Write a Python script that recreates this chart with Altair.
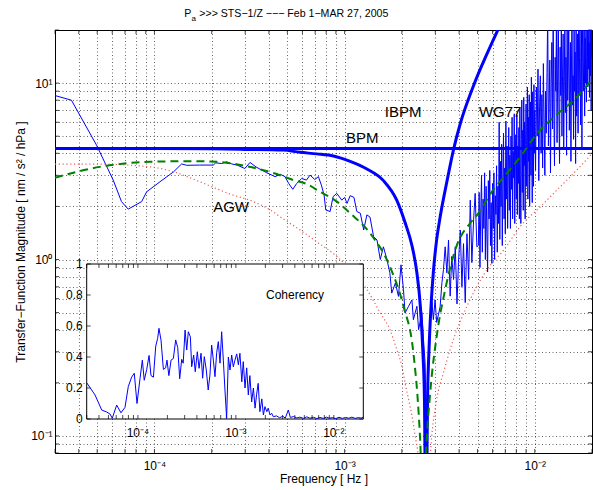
import altair as alt
import pandas as pd

FONT = "Liberation Sans"

# ---------------- measured transfer function (thin blue) ----------------
# low / mid band: frequency in Hz, magnitude in nm/s^2/hPa
tf_freq_lo = [3.0e-5, 3.66e-5, 4.96e-5, 6.07e-5, 6.71e-5, 7.28e-5, 8.57e-5, 9.10e-5, 1.07e-4, 1.26e-4,
              1.39e-4, 1.48e-4, 1.73e-4, 2.04e-4, 2.10e-4, 2.26e-4, 2.40e-4, 2.55e-4, 2.72e-4, 2.99e-4,
              3.18e-4, 3.42e-4, 3.67e-4, 3.90e-4, 4.31e-4, 4.59e-4, 4.86e-4, 5.08e-4, 5.34e-4, 5.60e-4,
              5.95e-4, 6.30e-4, 6.58e-4, 6.97e-4, 7.28e-4, 7.55e-4, 7.80e-4, 7.96e-4, 8.39e-4, 8.70e-4,
              9.10e-4, 9.67e-4, 1.00e-3, 1.03e-3, 1.07e-3, 1.12e-3, 1.16e-3, 1.21e-3, 1.26e-3, 1.31e-3,
              1.36e-3, 1.42e-3, 1.48e-3, 1.54e-3, 1.60e-3, 1.67e-3, 1.73e-3, 1.77e-3, 1.85e-3, 1.92e-3,
              1.98e-3, 2.04e-3, 2.08e-3, 2.17e-3, 2.26e-3, 2.30e-3, 2.40e-3, 2.45e-3, 2.55e-3, 2.60e-3,
              2.65e-3, 2.71e-3, 2.76e-3, 2.82e-3, 2.88e-3, 2.93e-3, 2.99e-3, 3.05e-3, 3.18e-3, 3.25e-3,
              3.31e-3, 3.38e-3, 3.45e-3, 3.52e-3, 3.59e-3, 3.66e-3, 3.74e-3, 3.82e-3, 3.90e-3, 3.97e-3,
              4.06e-3, 4.14e-3, 4.22e-3, 4.31e-3, 4.40e-3, 4.49e-3, 4.58e-3, 4.67e-3, 4.77e-3, 4.86e-3,
              4.96e-3]
tf_mag_lo = [8.5, 8.0, 4.45, 2.82, 2.13, 1.93, 2.13, 2.42, 2.76, 3.14,
             3.48, 3.42, 3.43, 3.43, 3.53, 3.5, 3.58, 3.48, 3.43, 3.28,
             3.55, 3.35, 3.21, 3.1, 2.95, 3.04, 2.95, 2.70, 2.5, 2.7,
             2.88, 2.82, 3.01, 2.84, 2.95, 2.64, 2.32, 1.91, 1.87, 2.27,
             2.37, 2.17, 2.25, 2.08, 2.3, 2.25, 1.87, 1.83, 1.47, 1.79,
             1.74, 1.35, 1.29, 1.0, 1.18, 1.0, 0.84, 0.645, 0.736, 0.618,
             0.933, 0.675, 0.498, 0.543, 0.59, 0.456, 0.543, 0.40, 0.5, 0.35,
             0.26, 0.07, 0.21, 0.44, 0.57, 0.456, 0.59, 0.44, 0.54, 0.74,
             0.875, 1.18, 0.84, 1.29, 0.62, 1.04, 0.77, 1.18, 0.56, 0.96,
             1.47, 0.70, 1.23, 0.57, 1.4, 0.77, 2.17, 0.96, 1.68, 2.37,
             1.18]
# high band: frequency in mHz
tf_freq_hi_mhz = [5.05, 5.10, 5.15, 5.20, 5.25, 5.30, 5.35, 5.40, 5.45, 5.50,
                  5.55, 5.60, 5.65, 5.70, 5.75, 5.80, 5.85, 5.90, 5.95, 6.00,
                  6.05, 6.10, 6.15, 6.20, 6.25, 6.30, 6.35, 6.40, 6.45, 6.50,
                  6.55, 6.60, 6.65, 6.70, 6.75, 6.80, 6.85, 6.90, 6.95, 7.00,
                  7.05, 7.10, 7.15, 7.20, 7.25, 7.30, 7.35, 7.40, 7.45, 7.50,
                  7.55, 7.60, 7.65, 7.70, 7.75, 7.80, 7.85, 7.90, 7.95, 8.00,
                  8.05, 8.10, 8.15, 8.20, 8.25, 8.30, 8.35, 8.40, 8.45, 8.50,
                  8.55, 8.60, 8.65, 8.70, 8.75, 8.80, 8.85, 8.90, 8.95, 9.00,
                  9.05, 9.10, 9.15, 9.20, 9.25, 9.30, 9.35, 9.40, 9.45, 9.50,
                  9.55, 9.60, 9.65, 9.70, 9.75, 9.80, 9.85, 9.90, 9.95, 10.00,
                  10.1, 10.2, 10.3, 10.4, 10.5, 10.6, 10.7, 10.8, 10.9, 11.0,
                  11.1, 11.2, 11.3, 11.4, 11.5, 11.6, 11.7, 11.8, 11.9, 12.0,
                  12.1, 12.2, 12.3, 12.4, 12.5, 12.6, 12.7, 12.8, 12.9, 13.0,
                  13.1, 13.2, 13.3, 13.4, 13.5, 13.6, 13.7, 13.8, 13.9, 14.0,
                  14.1, 14.2, 14.3, 14.4, 14.5, 14.6, 14.7, 14.8, 14.9, 15.0,
                  15.1, 15.2, 15.3, 15.4, 15.5, 15.6, 15.7, 15.8, 15.9, 16.0,
                  16.1, 16.2, 16.3, 16.4, 16.5, 16.6, 16.7, 16.8, 16.9, 17.0,
                  17.1, 17.2, 17.3, 17.4, 17.5, 17.6, 17.7, 17.8, 17.9, 18.0,
                  18.1, 18.2, 18.3, 18.4, 18.5, 18.6, 18.7, 18.8, 18.9, 19.0,
                  19.1, 19.2, 19.3, 19.4, 19.5, 19.6, 19.7, 19.8, 19.9, 20.0,
                  20.1, 20.2, 20.3, 20.4, 20.5]
tf_mag_hi = [1.2, 2.4, 0.9, 1.9, 3.0, 1.1, 2.2, 1.5, 3.1, 1.0,
             2.6, 1.4, 0.85, 2.8, 1.7, 3.2, 1.2, 2.1, 0.95, 2.7,
             1.5, 3.1, 1.0, 2.3, 1.8, 3.4, 1.1, 2.6, 1.6, 6.0,
             1.3, 3.6, 2.0, 4.5, 1.2, 2.8, 5.2, 1.7, 3.3, 1.4,
             6.1, 2.2, 4.4, 1.5, 3.0, 5.6, 1.9, 3.9, 1.5, 5.0,
             2.5, 6.4, 1.7, 4.1, 2.9, 6.7, 1.6, 3.6, 5.1, 2.2,
             6.6, 1.8, 4.4, 2.7, 5.6, 1.7, 7.2, 3.0, 1.6, 4.8,
             8.0, 2.4, 5.4, 1.9, 8.3, 3.4, 6.0, 1.7, 4.5, 7.6,
             2.6, 5.0, 9.5, 2.2, 6.4, 3.6, 8.6, 2.0, 4.8, 7.8,
             3.0, 10.8, 4.2, 2.1, 8.9, 5.5, 2.6, 9.8, 4.0, 7.0,
             3.2, 9.5, 5.0, 12.0, 2.8, 7.4, 11.0, 4.0, 8.6, 3.3,
             12.9, 6.0, 3.0, 9.0, 5.2, 11.5, 25, 4.4, 8.0, 13.5,
             3.1, 10.0, 17.0, 5.5, 25, 7.0, 3.4, 14.0, 9.0, 22,
             4.6, 12.0, 25, 6.5, 3.5, 16.0, 8.5, 25, 5.0, 11.0,
             19.0, 4.2, 9.5, 25, 6.8, 14.0, 3.9, 21.0, 8.0, 12.5,
             25, 5.4, 10.0, 17.0, 3.6, 13.0, 25, 7.5, 11.0, 4.8,
             22.0, 9.0, 15.0, 3.5, 25, 6.5, 12.0, 19.0, 5.2, 25,
             8.5, 14.0, 25, 5.8, 11.0, 20.0, 4.2, 16.0, 25, 9.0,
             13.0, 25, 6.5, 18.0, 10.0, 25, 7.8, 14.0, 22.0, 9.5,
             25, 12.0, 17.0, 8.3, 25, 11.0, 20.0, 7.0, 25, 14.0,
             25, 9.5, 18.0, 12.0, 25]

# ---------------- AGW model (green dashed) ----------------
agw_freq = [3.0e-5, 5.16e-5, 9.47e-5, 1.57e-4, 2.12e-4, 3.05e-4, 3.74e-4, 4.40e-4, 5.38e-4, 6.32e-4,
            7.43e-4, 9.10e-4, 1.07e-3, 1.36e-3, 1.73e-3, 2.04e-3, 2.30e-3, 2.45e-3, 2.50e-3, 2.59e-3,
            2.68e-3, 2.82e-3, 3.05e-3, 3.38e-3, 3.90e-3, 4.58e-3, 5.06e-3, 5.87e-3, 7.14e-3, 8.39e-3,
            1.03e-2, 1.26e-2, 1.60e-2, 2.0e-2, 2.05e-2]
agw_mag = [2.91, 3.35, 3.58, 3.61, 3.58, 3.38, 3.21, 3.05, 2.82, 2.68,
           2.42, 2.13, 1.83, 1.41, 0.913, 0.543, 0.296, 0.136, 0.092, 0.03,
           0.08, 0.176, 0.367, 0.675, 1.21, 1.61, 1.83, 2.37, 3.08, 3.82,
           5.18, 6.43, 7.98, 10.4, 10.7]

# ---------------- second model (red dotted) ----------------
red_freq = [3.0e-5, 5.16e-5, 9.47e-5, 1.26e-4, 1.73e-4, 2.50e-4, 3.31e-4, 4.06e-4, 4.57e-4, 5.83e-4,
            7.14e-4, 9.10e-4, 1.07e-3, 1.31e-3, 1.54e-3, 1.73e-3, 1.88e-3, 2.0e-3, 2.08e-3, 2.17e-3,
            2.26e-3, 2.35e-3, 2.45e-3, 2.55e-3, 2.65e-3, 2.75e-3, 2.85e-3, 3.05e-3, 3.31e-3, 3.59e-3,
            3.90e-3, 4.40e-3, 4.77e-3, 5.60e-3, 6.86e-3, 8.39e-3, 1.07e-2, 1.31e-2, 1.60e-2, 1.88e-2,
            2.05e-2]
red_mag = [3.47, 3.47, 3.35, 3.14, 2.76, 2.35, 2.13, 1.91, 1.75, 1.47,
           1.26, 1.04, 0.875, 0.675, 0.498, 0.401, 0.309, 0.249, 0.2, 0.161,
           0.13, 0.1, 0.075, 0.045, 0.025, 0.05, 0.09, 0.161, 0.228, 0.309,
           0.401, 0.543, 0.649, 0.875, 1.13, 1.54, 1.99, 2.48, 3.08, 3.7,
           4.1]

# ---------------- IBPM model (thick blue) ----------------
ibpm_freq = [3.0e-5, 1.0e-4, 2.0e-4, 3.0e-4, 4.76e-4, 5.83e-4, 7.14e-4, 8.73e-4, 1.07e-3, 1.31e-3,
             1.60e-3, 1.88e-3, 2.08e-3, 2.26e-3, 2.40e-3, 2.50e-3, 2.58e-3, 2.63e-3, 2.68e-3, 2.73e-3,
             2.78e-3, 2.85e-3, 2.93e-3, 3.05e-3, 3.18e-3, 3.45e-3, 3.74e-3, 4.06e-3, 4.77e-3, 5.60e-3,
             6.45e-3, 7.5e-3]
ibpm_mag = [4.26, 4.26, 4.24, 4.21, 4.17, 4.05, 3.97, 3.86, 3.6, 3.26,
            2.8, 2.17, 1.62, 1.2, 0.84, 0.55, 0.3, 0.16, 0.02, 0.16,
            0.31, 0.55, 0.85, 1.3, 1.74, 2.76, 4.2, 5.9, 9.7, 14.6,
            20.4, 29]

# ---------------- BPM level (thick horizontal) ----------------
bpm_level = [4.26]

# ---------------- annotations ----------------
label_text = ["IBPM", "WG77", "BPM", "AGW"]
label_freq = [2.03e-3, 6.58e-3, 1.24e-3, 2.53e-4]
label_mag = [6.43, 6.43, 4.58, 1.85]

title_main = ">>> STS\u22121/Z \u2212\u2212\u2212 Feb 1\u2212MAR 27, 2005"

# ---------------- coherency (inset) ----------------
coh_freq = [3.0e-5, 3.65e-5, 4.27e-5, 4.80e-5, 5.19e-5, 5.47e-5, 6.07e-5, 6.71e-5, 7.38e-5, 7.98e-5,
            8.63e-5, 9.18e-5, 9.79e-5, 1.05e-4, 1.11e-4, 1.16e-4, 1.23e-4, 1.30e-4, 1.36e-4, 1.44e-4,
            1.52e-4, 1.59e-4, 1.64e-4, 1.72e-4, 1.82e-4, 1.92e-4, 1.98e-4, 2.07e-4, 2.18e-4, 2.30e-4,
            2.43e-4, 2.55e-4, 2.67e-4, 2.80e-4, 2.90e-4, 3.03e-4, 3.15e-4, 3.27e-4, 3.43e-4, 3.54e-4,
            3.71e-4, 3.85e-4, 4.04e-4, 4.21e-4, 4.41e-4, 4.58e-4, 4.76e-4, 4.99e-4, 5.22e-4, 5.44e-4,
            5.66e-4, 5.89e-4, 6.12e-4, 6.37e-4, 6.62e-4, 6.89e-4, 7.16e-4, 7.45e-4, 7.74e-4, 8.05e-4,
            8.38e-4, 8.71e-4, 9.06e-4, 9.42e-4, 9.79e-4, 1.02e-3, 1.06e-3, 1.10e-3, 1.15e-3, 1.19e-3,
            1.24e-3, 1.29e-3, 1.34e-3, 1.39e-3, 1.45e-3, 1.51e-3, 1.57e-3, 1.63e-3, 1.69e-3, 1.76e-3,
            1.84e-3, 1.91e-3, 1.98e-3, 2.07e-3, 2.14e-3, 2.23e-3, 2.32e-3, 2.41e-3, 2.6e-3, 2.8e-3,
            3.0e-3, 3.2e-3, 3.43e-3, 3.6e-3, 3.9e-3, 4.2e-3, 4.5e-3, 4.9e-3, 5.3e-3, 5.7e-3,
            6.2e-3, 6.7e-3, 7.2e-3, 7.8e-3, 8.4e-3, 9.0e-3, 9.7e-3, 1.05e-2, 1.13e-2, 1.22e-2,
            1.32e-2, 1.42e-2, 1.53e-2, 1.65e-2, 1.78e-2, 1.9e-2, 2.0e-2]
coh_val = [0.234, 0.155, 0.058, 0.045, 0.032, 0.005, 0.09, 0.04, 0.075, 0.21,
           0.27, 0.295, 0.10, 0.26, 0.38, 0.25, 0.32, 0.41, 0.28, 0.27,
           0.47, 0.52, 0.585, 0.51, 0.32, 0.33, 0.38, 0.28, 0.38, 0.39,
           0.51, 0.46, 0.26, 0.385, 0.36, 0.574, 0.445, 0.563, 0.53, 0.337,
           0.413, 0.305, 0.434, 0.327, 0.424, 0.263, 0.402, 0.316, 0.187, 0.284,
           0.477, 0.38, 0.273, 0.428, 0.499, 0.36, 0.563, 0.38, 0.187, 0.005,
           0.40, 0.316, 0.413, 0.337, 0.38, 0.42, 0.35, 0.424, 0.24, 0.37,
           0.2, 0.33, 0.155, 0.28, 0.11, 0.2, 0.07, 0.16, 0.23, 0.047,
           0.13, 0.026, 0.08, 0.047, 0.07, 0.026, 0.037, 0.015, 0.02, 0.008,
           0.018, 0.006, 0.058, 0.01, 0.016, 0.006, 0.012, 0.004, 0.014, 0.005,
           0.011, 0.003, 0.01, 0.004, 0.012, 0.005, 0.009, 0.003, 0.011, 0.004,
           0.01, 0.005, 0.012, 0.004, 0.009, 0.006, 0.012]
coh_label = ["Coherency"]
coh_label_freq = [4.02e-3]
coh_label_val = [0.776]

inset_f_limits = [3e-5, 0.02]
inset_c_limits = [0, 1]
inset_xtick_vals = [1e-4, 1e-3, 1e-2]
inset_xtick_text = ["10\u207b\u2074", "10\u207b\u00b3", "10\u207b\u00b2"]
inset_ytick_vals = [0, 0.2, 0.4, 0.6, 0.8, 1]
inset_ytick_text = ["0", "0.2", "0.4", "0.6", "0.8", "1"]

# ---------------- axes ----------------
x_grid = [3e-5, 4e-5, 5e-5, 6e-5, 7e-5, 8e-5, 9e-5,
          1e-4, 2e-4, 3e-4, 4e-4, 5e-4, 6e-4, 7e-4, 8e-4, 9e-4,
          0.001, 0.002, 0.003, 0.004, 0.005, 0.006, 0.007, 0.008, 0.009,
          0.01, 0.02]
y_grid = [0.08, 0.09, 0.1, 0.2, 0.3, 0.4, 0.5, 0.6, 0.7, 0.8, 0.9,
          1, 2, 3, 4, 5, 6, 7, 8, 9, 10, 20]

x_label_expr = ("datum.value == 0.0001 ? '10\u207b\u2074' : datum.value == 0.001 ? '10\u207b\u00b3' : "
                "datum.value == 0.01 ? '10\u207b\u00b2' : ''")
y_label_expr = ("datum.value == 0.1 ? '10\u207b\u00b9' : datum.value == 1 ? '10\u2070' : "
                "datum.value == 10 ? '10\u00b9' : ''")

common_axis = dict(labelFont=FONT, labelFontSize=12, labelColor="black",
                   titleFont=FONT, titleFontSize=12, titleFontWeight="normal", titleColor="black",
                   ticks=False, tickSize=0, domain=False, labelOverlap=False, labelFlush=False,
                   grid=True, gridDash=[1, 2.5], gridColor="#000000", gridOpacity=0.6, gridWidth=1)

main_x_axis = alt.Axis(orient="bottom", values=x_grid, labelExpr=x_label_expr, title="Frequency [ Hz ]",
                       labelPadding=7, titlePadding=2, **common_axis)
main_y_axis = alt.Axis(orient="left", values=y_grid, labelExpr=y_label_expr,
                       title="Transfer\u2212Function Magnitude  [ nm / s\u00b2 / hPa ]",
                       labelPadding=3, titlePadding=3, **common_axis)

x_scale = alt.Scale(type="log", domain=[3e-5, 0.02], nice=False)
y_scale = alt.Scale(type="log", domain=[0.08, 20], nice=False)

X = alt.X("f:Q", scale=x_scale, axis=main_x_axis)
Y = alt.Y("v:Q", scale=y_scale, axis=main_y_axis)

tf_df = pd.DataFrame({"f": tf_freq_lo + [m * 1e-3 for m in tf_freq_hi_mhz], "v": tf_mag_lo + tf_mag_hi})
agw_df = pd.DataFrame({"f": agw_freq, "v": agw_mag})
red_df = pd.DataFrame({"f": red_freq, "v": red_mag})
ibpm_df = pd.DataFrame({"f": ibpm_freq, "v": ibpm_mag})
bpm_df = pd.DataFrame({"v": bpm_level})
lab_df = pd.DataFrame({"f": label_freq, "v": label_mag, "t": label_text})
xg_df = pd.DataFrame({"f": x_grid})
yg_df = pd.DataFrame({"v": y_grid})

tf_line = alt.Chart(tf_df).mark_line(color="#0000ff", strokeWidth=1, clip=True).encode(x=X, y=Y)
red_line = alt.Chart(red_df).mark_line(color="#f05a5a", strokeWidth=1.2, strokeDash=[1.2, 2.6],
                                       interpolate="monotone", clip=True).encode(x=X, y=Y)
agw_line = alt.Chart(agw_df).mark_line(color="#008000", strokeWidth=2, strokeDash=[8, 5],
                                       interpolate="monotone", clip=True).encode(x=X, y=Y)
ibpm_line = alt.Chart(ibpm_df).mark_line(color="#0000ff", strokeWidth=3, interpolate="monotone",
                                         clip=True).encode(x=X, y=Y)
bpm_rule = alt.Chart(bpm_df).mark_rule(color="#0000ff", strokeWidth=3, clip=True).encode(y=Y)
labels = alt.Chart(lab_df).mark_text(font=FONT, fontSize=15, color="black", align="center",
                                     baseline="alphabetic").encode(x=X, y=Y, text="t:N")

# inward frame ticks (MATLAB style)
tick_b = alt.Chart(xg_df).mark_tick(orient="vertical", color="black", size=4, thickness=1).encode(
    x=X, y=alt.value(421))
tick_t = alt.Chart(xg_df).mark_tick(orient="vertical", color="black", size=4, thickness=1).encode(
    x=X, y=alt.value(2))
tick_l = alt.Chart(yg_df).mark_tick(orient="horizontal", color="black", size=4, thickness=1).encode(
    y=Y, x=alt.value(2))
tick_r = alt.Chart(yg_df).mark_tick(orient="horizontal", color="black", size=4, thickness=1).encode(
    y=Y, x=alt.value(535))

# title pieces (P with subscript a)
t1 = alt.Chart(pd.DataFrame({"t": ["P"]})).mark_text(
    font=FONT, fontSize=10.6, color="black", align="left", baseline="alphabetic").encode(
    x=alt.value(129.3), y=alt.value(-13.3), text="t:N")
t2 = alt.Chart(pd.DataFrame({"t": ["a"]})).mark_text(
    font=FONT, fontSize=8, color="black", align="left", baseline="alphabetic").encode(
    x=alt.value(136.4), y=alt.value(-9.5), text="t:N")
t3 = alt.Chart(pd.DataFrame({"t": [title_main]})).mark_text(
    font=FONT, fontSize=10.6, color="black", align="left", baseline="alphabetic").encode(
    x=alt.value(144.3), y=alt.value(-13.3), text="t:N")

main = alt.layer(tick_b, tick_t, tick_l, tick_r,
                 tf_line, ibpm_line, bpm_rule, red_line, agw_line, labels, t1, t2, t3)

# ---------------- inset ----------------
in_x_scale = alt.Scale(type="log", domain=inset_f_limits, range=[31.7, 308.3], nice=False)
in_y_scale = alt.Scale(domain=inset_c_limits, range=[389, 234], nice=False, zero=False)

coh_df = pd.DataFrame({"f": coh_freq, "c": coh_val})
coh_lab_df = pd.DataFrame({"f": coh_label_freq, "c": coh_label_val, "t": coh_label})
frame_df = pd.DataFrame({"f0": [inset_f_limits[0]], "f1": [inset_f_limits[1]],
                         "c0": [inset_c_limits[0]], "c1": [inset_c_limits[1]]})
xt_df = pd.DataFrame({"f": inset_xtick_vals, "c": [inset_c_limits[0]] * 3, "t": inset_xtick_text})
yt_df = pd.DataFrame({"f": [inset_f_limits[0]] * 6, "c": inset_ytick_vals, "t": inset_ytick_text})
ixg_df = pd.DataFrame({"f": x_grid[:-1]})
iyg_df = pd.DataFrame({"c": inset_ytick_vals})

IX = alt.X("f:Q", scale=in_x_scale, axis=None)
IY = alt.Y("c:Q", scale=in_y_scale, axis=None)

inset_rect = alt.Chart(frame_df).mark_rect(fill="white", stroke="black", strokeWidth=1).encode(
    x=alt.X("f0:Q", scale=in_x_scale, axis=None), x2="f1:Q",
    y=alt.Y("c0:Q", scale=in_y_scale, axis=None), y2="c1:Q")
coh_line = alt.Chart(coh_df).mark_line(color="#0000ff", strokeWidth=1).encode(x=IX, y=IY)
coh_text = alt.Chart(coh_lab_df).mark_text(font=FONT, fontSize=12, color="black", align="center",
                                           baseline="alphabetic").encode(x=IX, y=IY, text="t:N")
xt_text = alt.Chart(xt_df).mark_text(font=FONT, fontSize=12, color="black", align="center",
                                     baseline="middle", dy=14).encode(x=IX, y=IY, text="t:N")
yt_text = alt.Chart(yt_df).mark_text(font=FONT, fontSize=12, color="black", align="right",
                                     baseline="middle", dx=-4).encode(x=IX, y=IY, text="t:N")
itick_b = alt.Chart(ixg_df).mark_tick(orient="vertical", color="black", size=4, thickness=1).encode(
    x=IX, y=alt.value(387))
itick_t = alt.Chart(ixg_df).mark_tick(orient="vertical", color="black", size=4, thickness=1).encode(
    x=IX, y=alt.value(236))
itick_l = alt.Chart(iyg_df).mark_tick(orient="horizontal", color="black", size=4, thickness=1).encode(
    y=IY, x=alt.value(33.7))
itick_r = alt.Chart(iyg_df).mark_tick(orient="horizontal", color="black", size=4, thickness=1).encode(
    y=IY, x=alt.value(306.3))

inset = alt.layer(inset_rect, itick_b, itick_t, itick_l, itick_r, coh_line, coh_text, xt_text, yt_text)

chart = alt.layer(main, inset).resolve_scale(x="independent", y="independent").properties(
    width=537, height=423,
    autosize=alt.AutoSizeParams(type="none"),
    padding={"left": 55, "top": 30, "right": 1, "bottom": 37},
).configure_view(stroke="black", strokeWidth=1)

chart.save("out.html", embed_options={"renderer": "svg", "actions": False})
